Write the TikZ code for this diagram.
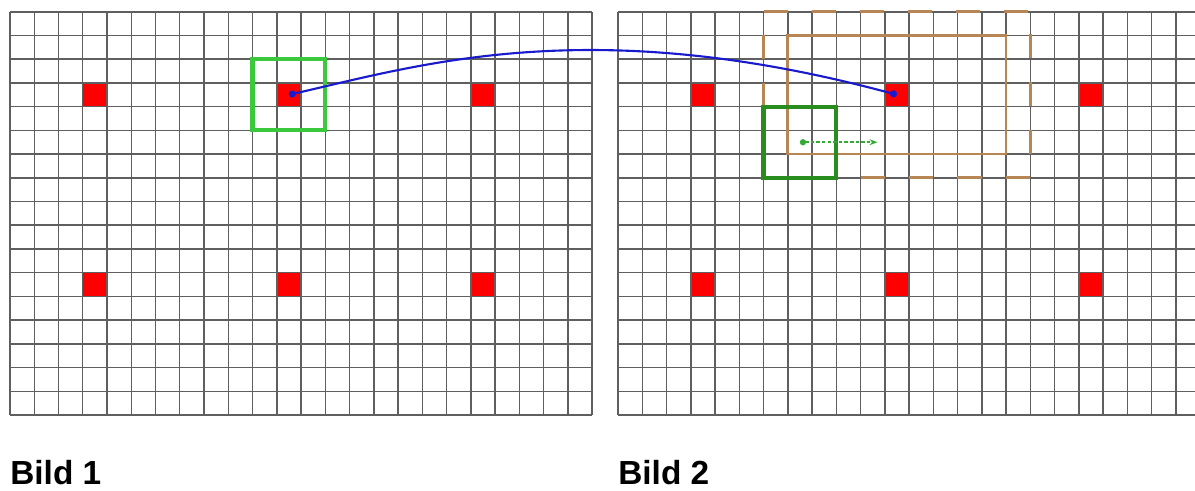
\documentclass[tikz,border=0pt]{standalone}
\usepackage{fontspec}
\setmainfont{Liberation Sans}
\usepackage{xcolor}
\definecolor{gridgray}{RGB}{95,95,95}
\definecolor{ptred}{RGB}{255,0,0}
\definecolor{winlime}{RGB}{60,200,60}
\definecolor{windark}{RGB}{40,140,30}
\definecolor{searchbrown}{RGB}{184,134,84}
\definecolor{matchblue}{RGB}{25,25,205}
\usepackage{tikz}
\usetikzlibrary{arrows.meta, calc}

\tikzset{
  redpt/.style={fill=ptred, minimum width=0.485cm, minimum height=0.4744cm,
                inner sep=0pt, outer sep=0pt},
  winbox/.style={draw, line width=2.3pt, minimum width=1.455cm,
                 minimum height=1.423cm, inner sep=0pt, outer sep=0pt}
}

\begin{document}
\begin{tikzpicture}

\useasboundingbox (0,0) rectangle (23.9,9.8);

% === Bild 1 ===
\begin{scope}[shift={(0.2,1.5)}, x=0.485cm, y=0.4744cm]
  \node[redpt] (la) at (3.5,13.5) {};
  \node[redpt] (lb) at (11.5,13.5) {};
  \node[redpt] (lc) at (19.5,13.5) {};
  \node[redpt] (ld) at (3.5,5.5) {};
  \node[redpt] (le) at (11.5,5.5) {};
  \node[redpt] (lf) at (19.5,5.5) {};

  \draw[gridgray, line width=0.85pt, step=1] (0,0) grid (24,17);

  % window around the point
  \node[winbox, draw=winlime] (winL) at (11.5,13.5) {};
\end{scope}

% === Bild 2 ===
\begin{scope}[shift={(12.36,1.5)}, x=0.485cm, y=0.4744cm]
  \node[redpt] (ra) at (3.5,13.5) {};
  \node[redpt] (rb) at (11.5,13.5) {};
  \node[redpt] (rc) at (19.5,13.5) {};
  \node[redpt] (rd) at (3.5,5.5) {};
  \node[redpt] (re) at (11.5,5.5) {};
  \node[redpt] (rf) at (19.5,5.5) {};

  \draw[gridgray, line width=0.85pt, step=1] (0,0) grid (23.8,17);

  % search area (outer dashed, inner solid)
  \draw[searchbrown, line width=1.6pt, dash pattern=on 13.7pt off 13.7pt]
       (6,17) -- (17,17) -- (17,10) -- (6,10) -- cycle;
  \draw[searchbrown, line width=1.6pt] (7,11) rectangle (16,16);

  % shifted window
  \node[winbox, draw=windark] (winR) at (7.5,11.5) {};
  \coordinate (shiftend) at (10.7,11.5);
  \draw[winlime!85!black, line width=1.1pt, dash pattern=on 2pt off 1.2pt,
        {Circle[length=3.5pt]}-{Stealth[length=4.5pt]}] (winR.center) -- (shiftend);
\end{scope}

% match between both pictures
\draw[matchblue, line width=1.2pt, {Circle[length=4pt]}-{Circle[length=4pt]}]
     (lb.center) .. controls (8.4,8.5) and (11.8,9.56) .. (rb.center);

% Labels
\node[font=\fontsize{19}{22}\selectfont\bfseries, anchor=base west, inner sep=0pt]
     (bild1) at (0.2,0.12) {Bild 1};
\node[font=\fontsize{19}{22}\selectfont\bfseries, anchor=base west, inner sep=0pt]
     (bild2) at (12.36,0.12) {Bild 2};

\end{tikzpicture}
\end{document}
